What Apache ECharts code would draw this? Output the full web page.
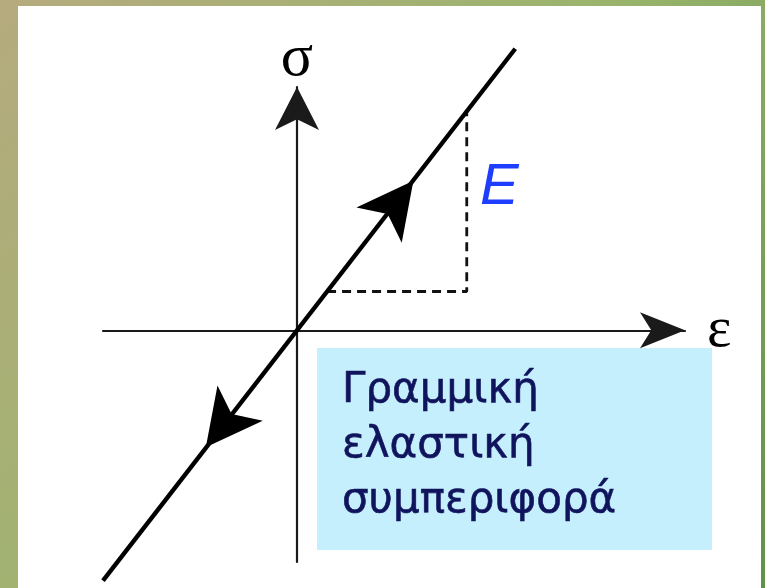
<!DOCTYPE html>
<html>
<head>
<meta charset="utf-8">
<script src="https://cdn.jsdelivr.net/npm/echarts@6/dist/echarts.min.js"></script>
<style>
  html, body { margin: 0; padding: 0; }
  #chart { width: 765px; height: 588px; }
</style>
</head>
<body>
<div id="chart"></div>
<script>
// ---- data ----
const axisNames = ['ε', 'σ'];
const lineStrain = [-2.0, 2.25];
const lineStress = [-2.16, 2.43];
const slopeStrain = [0.31, 1.75, 1.75];
const slopeStress = [0.335, 0.335, 1.89];
const arrowStrain = [1.2, -0.94];
const arrowStress = [1.29, -1.01];
const slopeLabel = 'E';
const boxLines = ['Γραμμική', 'ελαστική', 'συμπεριφορά'];

const zip = (a, b) => a.map((v, i) => [v, b[i]]);

const chart = echarts.init(document.getElementById('chart'));
chart.setOption({
  animation: false,
  backgroundColor: new echarts.graphic.LinearGradient(0, 0, 1, 1, [
    { offset: 0, color: '#b6ab7e' },
    { offset: 0.5, color: '#9ab46d' },
    { offset: 1, color: '#5f9247' }
  ]),
  grid: { left: 103, right: 80, top: 87, bottom: 26, containLabel: false, outerBoundsMode: 'none' },
  xAxis: {
    type: 'value', min: -2, max: 4,
    name: axisNames[0], nameLocation: 'end', nameGap: 22,
    nameTextStyle: { fontFamily: 'Liberation Serif', fontSize: 58, color: '#000', verticalAlign: 'middle', align: 'left', padding: [0, 0, 24, 0] },
    axisLine: { onZero: true, lineStyle: { color: '#1a1a1a', width: 2.2 }, symbol: ['none', 'arrow'], symbolSize: [27, 45] },
    axisTick: { show: false }, axisLabel: { show: false }, splitLine: { show: false }
  },
  yAxis: {
    type: 'value', min: -2, max: 2.1,
    name: axisNames[1], nameLocation: 'end', nameGap: 28,
    nameTextStyle: { fontFamily: 'Liberation Serif', fontSize: 60, color: '#000', verticalAlign: 'middle', align: 'center' },
    axisLine: { onZero: true, lineStyle: { color: '#1a1a1a', width: 2.2 }, symbol: ['none', 'arrow'], symbolSize: [33, 43] },
    axisTick: { show: false }, axisLabel: { show: false }, splitLine: { show: false }
  },
  graphic: [
    { type: 'rect', z: -10, shape: { x: 18, y: 6, width: 743, height: 590 }, style: { fill: '#ffffff' } },
    { type: 'rect', z: -5, shape: { x: 317, y: 348, width: 395, height: 202 }, style: { fill: '#c6effe' } },
    { type: 'text', z: 5, x: 342, y: 364, style: { text: boxLines.join('\n'), font: '42px "DejaVu Sans"', lineHeight: 55, fill: '#10145c', stroke: '#10145c', lineWidth: 0.6, verticalAlign: 'top' } },
    { type: 'text', z: 5, x: 480, y: 159, style: { text: slopeLabel, font: 'italic 58px "Liberation Sans"', fill: '#1f3dff', verticalAlign: 'top' } }
  ],
  series: [
    {
      type: 'line', data: zip(lineStrain, lineStress), clip: false, symbol: 'none',
      lineStyle: { color: '#000', width: 4.4 }, z: 3
    },
    {
      type: 'line', data: zip(slopeStrain, slopeStress), clip: false, symbol: 'none',
      lineStyle: { color: '#111', width: 2.8, type: [9, 6] }, z: 2
    },
    {
      type: 'scatter', data: zip(arrowStrain, arrowStress), symbol: 'arrow',
      symbolSize: [43, 56],
      symbolRotate: function (v, p) { return p.dataIndex === 0 ? -37.8 : 142.2; },
      itemStyle: { color: '#000', opacity: 1 }, z: 4
    }
  ]
});
</script>
</body>
</html>
